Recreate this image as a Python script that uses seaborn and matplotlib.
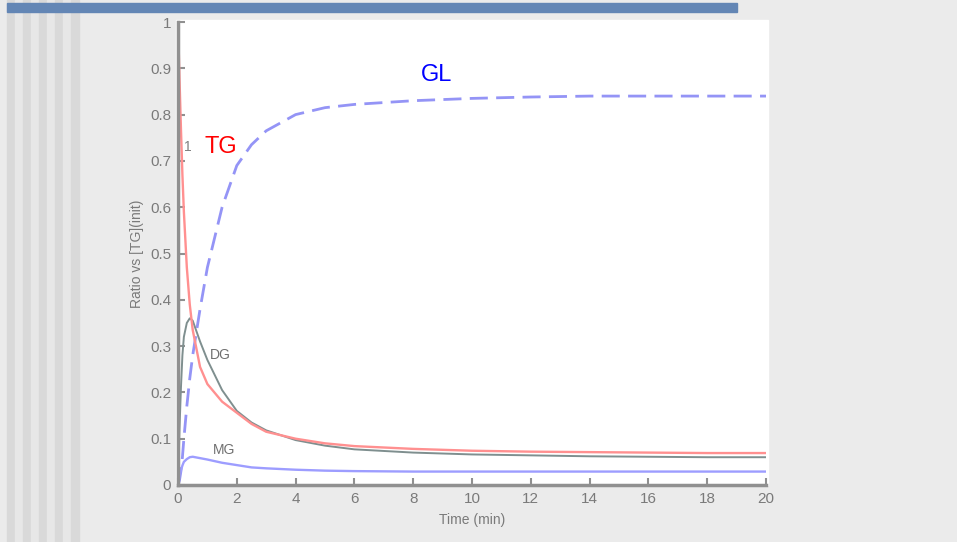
import numpy as np
import pandas as pd
import matplotlib.pyplot as plt
import seaborn as sns
from matplotlib.patches import Rectangle

# time (min)
t = [0, 0.05, 0.1, 0.15, 0.2, 0.3, 0.4, 0.5, 0.75, 1, 1.5, 2, 2.5, 3, 4, 5, 6, 8, 10, 12, 14, 16, 18, 20]
# ratio vs [TG] init
tg = [1.0, 0.88, 0.77, 0.67, 0.59, 0.47, 0.39, 0.335, 0.255, 0.218, 0.18, 0.156, 0.132, 0.115, 0.1, 0.09, 0.084, 0.078, 0.074, 0.072, 0.071, 0.07, 0.069, 0.069]
dg = [0.0, 0.12, 0.21, 0.28, 0.32, 0.35, 0.36, 0.355, 0.31, 0.27, 0.205, 0.16, 0.135, 0.118, 0.097, 0.085, 0.077, 0.07, 0.066, 0.064, 0.062, 0.061, 0.06, 0.06]
mg = [0.0, 0.02, 0.032, 0.042, 0.05, 0.056, 0.06, 0.061, 0.058, 0.055, 0.048, 0.043, 0.038, 0.036, 0.033, 0.031, 0.03, 0.029, 0.029, 0.029, 0.029, 0.029, 0.029, 0.029]
gl = [0.0, 0.01, 0.03, 0.06, 0.1, 0.17, 0.23, 0.28, 0.38, 0.47, 0.6, 0.69, 0.735, 0.765, 0.8, 0.815, 0.822, 0.83, 0.835, 0.838, 0.84, 0.84, 0.84, 0.84]

df = pd.DataFrame({"t": t, "TG": tg, "DG": dg, "MG": mg, "GL": gl})

sns.set_style("white")
plt.rcParams['font.family'] = ['Liberation Sans', 'DejaVu Sans']

fig = plt.figure(figsize=(9.57, 5.42), dpi=100, facecolor="#ebebeb")

# page decoration: left stripes and top band
W, H = 957, 542
for i in range(9):
    x0 = 7 + i * 8
    c = "#d9d9d9" if i % 2 == 0 else "#e7e7e7"
    fig.patches.append(Rectangle((x0 / W, 0), 8 / W, 1, transform=fig.transFigure,
                                 color=c, zorder=0))
fig.patches.append(Rectangle((7 / W, 1 - 12 / H), 730 / W, 9 / H, transform=fig.transFigure,
                             color="#6386b5", zorder=0))
# white panel
fig.patches.append(Rectangle((176 / W, 1 - 485 / H), 592 / W, 465 / H, transform=fig.transFigure,
                             color="white", zorder=0))

ax = fig.add_axes([178 / W, 1 - 485 / H, 588 / W, 463 / H])
ax.set_facecolor("none")
ax.set_zorder(5)

sns.lineplot(data=df, x="t", y="GL", ax=ax, color="#9494f6", lw=2.0,
             linestyle=(0, (6.5, 3)))
sns.lineplot(data=df, x="t", y="MG", ax=ax, color="#9d9dff", lw=1.7)
sns.lineplot(data=df, x="t", y="DG", ax=ax, color="#7f8f8f", lw=1.4)
sns.lineplot(data=df, x="t", y="TG", ax=ax, color="#ff9090", lw=1.7)

ax.set_xlim(0, 20)
ax.set_ylim(0, 1)
ax.set_xticks(range(0, 21, 2))
ax.set_yticks(np.arange(0, 1.01, 0.1))
ax.set_yticklabels(["0"] + [f"{v:.1f}" for v in np.arange(0.1, 1.0, 0.1)] + ["1"])

for s in ["top", "right"]:
    ax.spines[s].set_visible(False)
for s in ["left", "bottom"]:
    ax.spines[s].set_color("#909090")
    ax.spines[s].set_linewidth(2.5)
ax.tick_params(direction="in", length=5, width=1.5, color="#909090",
               labelcolor="#7a7a7a", labelsize=11, pad=5, left=True, bottom=True)

ax.set_xlabel("Time (min)", color="#7a7a7a", fontsize=10, labelpad=5)
ax.set_ylabel("Ratio vs [TG](init)", color="#7a7a7a", fontsize=10, labelpad=4)

ax.text(1.45, 0.73, "TG", color="red", fontsize=17, va="center", ha="center")
ax.text(0.35, 0.73, "1", color="#808080", fontsize=10, va="center", ha="center")
ax.text(8.8, 0.885, "GL", color="blue", fontsize=17, va="center", ha="center")
ax.text(1.1, 0.28, "DG", color="#707070", fontsize=10, va="center", ha="left")
ax.text(1.2, 0.075, "MG", color="#707070", fontsize=10, va="center", ha="left")

fig.savefig("out.png", dpi=100, facecolor=fig.get_facecolor())
